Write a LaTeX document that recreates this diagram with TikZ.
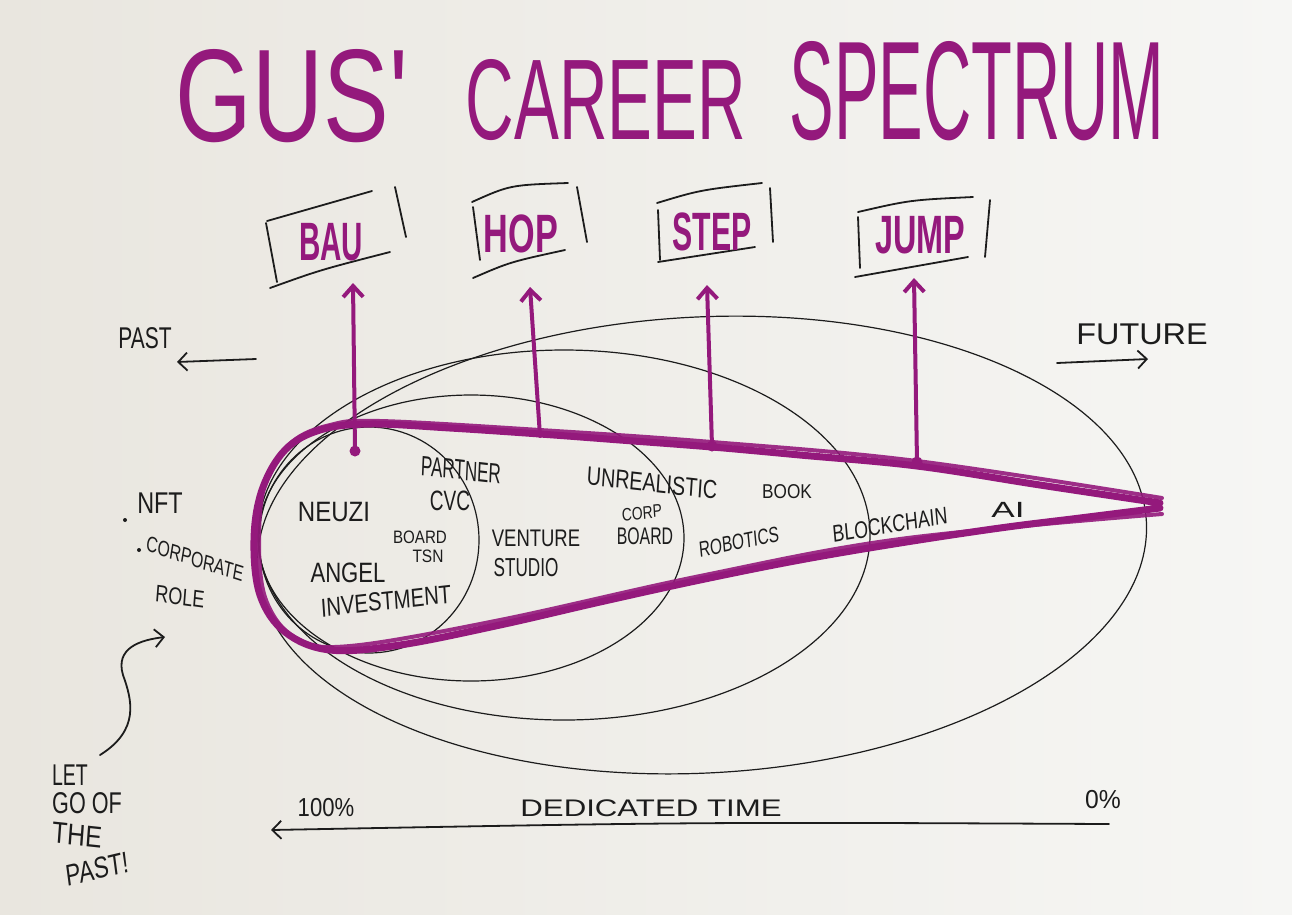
\documentclass[tikz,border=0pt]{standalone}
\usepackage{fontspec}
\newfontfamily\hand{Liberation Sans}
\usetikzlibrary{arrows.meta}
\definecolor{ink}{HTML}{1C1C1C}
\definecolor{mag}{HTML}{94197C}
\definecolor{paperL}{HTML}{E9E6DF}
\definecolor{paperR}{HTML}{F6F6F4}
\newcommand{\fsz}[1]{\fontsize{#1}{#1}\selectfont}
\begin{document}
\begin{tikzpicture}[x=1pt,y=-1pt,
  lbl/.style={text=ink, inner sep=0pt, font=\hand\fsz{#1}}, lbl/.default=26,
  boxlbl/.style={text=mag, inner sep=0pt, font=\hand\bfseries\fsz{36}, yscale=1.5},
  ttl/.style={text=mag, inner sep=0pt, font=\hand},
  stroke/.style={draw=ink, line width=1.8pt, line cap=round},
  ring/.style={draw=ink, line width=1.2pt},
  inkarrow/.style={draw=ink, line width=1.8pt, line cap=round, -{Straight Barb[length=9pt,width=18pt]}},
  parrow/.style={draw=mag, line width=4pt, line cap=round, -{Straight Barb[length=11pt,width=20pt]}},
  pdot/.style={circle, fill=mag, inner sep=0pt, minimum size=11pt},
  idot/.style={circle, fill=ink, inner sep=0pt, minimum size=4pt}]

% paper
\shade[left color=paperL, right color=paperR] (0,0) rectangle (1292,914);
\useasboundingbox (0,0) rectangle (1292,914);

% title
\node[ttl] (t-gus) at (292,96) {\resizebox{232pt}{92pt}{GUS'}};
\node[ttl] (t-career) at (606,100) {\resizebox{280pt}{80pt}{CAREER}};
\node[ttl] (t-spectrum) at (977,91) {\resizebox{375pt}{98pt}{SPECTRUM}};

% black ellipses
\draw[ring] (369,540) ellipse [x radius=110, y radius=113];
\draw[ring] (471,538) ellipse [x radius=213, y radius=143];
\draw[ring] (564,535) ellipse [x radius=306, y radius=185];
\draw[ring, rotate around={3:(702,545)}] (702,545) ellipse [x radius=445, y radius=228];

% purple cone
\draw[mag, line width=7pt, line cap=round, line join=round] plot[smooth, tension=0.6] coordinates {
 (1160,503) (1040,485) (917,466) (800,455) (712,447) (620,440) (540,434) (450,428) (370,424)
 (320,430) (285,450) (262,490) (254,540) (260,595) (285,632) (330,650) (400,645) (500,625)
 (600,602) (700,580) (800,560) (900,543) (1000,528) (1080,518) (1160,508)};
\draw[mag, line width=4pt, line cap=round, line join=round, opacity=0.9] plot[smooth, tension=0.6] coordinates {
 (1162,498) (917,461) (712,442) (540,430) (380,421) (330,425) (292,442) (266,480) (259,540)
 (266,600) (296,638) (350,646) (500,620) (700,576) (900,539) (1162,514)};

% boxes (hand-drawn outlines)
\draw[stroke] (267,221) -- (372,191);
\draw[stroke] (266,223) -- (277,282);
\draw[stroke] (270,288) .. controls (320,270) .. (390,252);
\draw[stroke] (395,187) -- (406,237);

\draw[stroke] (472,202) .. controls (510,185) .. (568,183);
\draw[stroke] (473,207) -- (480,260);
\draw[stroke] (473,278) .. controls (510,262) .. (565,250);
\draw[stroke] (577,187) -- (587,242);

\draw[stroke] (657,203) .. controls (700,190) .. (762,183);
\draw[stroke] (658,210) -- (660,260);
\draw[stroke] (658,262) -- (755,247);
\draw[stroke] (770,188) -- (773,242);

\draw[stroke] (858,212) .. controls (910,200) .. (973,197);
\draw[stroke] (858,217) -- (860,268);
\draw[stroke] (855,277) -- (968,257);
\draw[stroke] (990,200) -- (985,257);

% box labels
\node[boxlbl, xscale=.82] (bau) at (331,242) {BAU};
\node[boxlbl, xscale=.95] (hop) at (521,234) {HOP};
\node[boxlbl, xscale=.84] (stp) at (712,232) {STEP};
\node[boxlbl, xscale=.9] (jmp) at (920,235) {JUMP};

% purple arrows
\node[pdot] (d1) at (355,451) {};
\coordinate (d2) at (540,436);
\node[pdot] (d3) at (712,446) {};
\node[pdot] (d4) at (917,462) {};
\coordinate (t1) at (353,283);
\coordinate (t2) at (530,287);
\coordinate (t3) at (707,285);
\coordinate (t4) at (914,278);
\draw[parrow] (d1.center) -- (t1);
\draw[parrow] (d2) -- (t2);
\draw[parrow] (d3.center) -- (t3);
\draw[parrow] (d4.center) -- (t4);

% past / future
\node[lbl=30, xscale=.7] (past) at (145,338) {PAST};
\coordinate (pa1) at (256,359);
\coordinate (pa2) at (177,362);
\draw[inkarrow] (pa1) -- (pa2);
\node[lbl=30, xscale=1.08] (future) at (1142,334) {FUTURE};
\coordinate (fu1) at (1057,363);
\coordinate (fu2) at (1148,359);
\draw[inkarrow] (fu1) -- (fu2);

% left notes
\node[idot] (b1) at (125,520) {};
\node[lbl=30, xscale=.78] (nft) at (160,503) {NFT};
\node[idot] (b2) at (139,550) {};
\node[lbl=22, xscale=.72, rotate=-13] (corp) at (195,559) {CORPORATE};
\node[lbl=24, xscale=.75, rotate=-6] (role) at (180,597) {ROLE};

\node[lbl=30, xscale=.65] (let) at (70,775) {LET};
\node[lbl=30, xscale=.72] (goof) at (87,803) {GO OF};
\node[lbl=30, xscale=.83, rotate=-5] (the) at (77,835) {THE};
\node[lbl=30, xscale=.75, rotate=10] (pst) at (97,869) {PAST!};
\coordinate (lg) at (100,755);
\coordinate (lgt) at (165,637);
\draw[inkarrow] (lg) .. controls (140,730) and (132,700) .. (123,675) .. controls (115,648) and (140,640) .. (lgt);

% inner labels
\node[lbl=28, xscale=.86] (neuzi) at (334,512) {NEUZI};
\node[lbl=28, xscale=.61, rotate=-4] (partner) at (461,470) {PARTNER};
\node[lbl=28, xscale=.68] (cvc) at (450,501) {CVC};
\node[lbl=18, xscale=.84] (board1) at (420,537) {BOARD};
\node[lbl=18, xscale=.86] (tsn) at (428,556) {TSN};
\node[lbl=28, xscale=.79] (angel) at (348,573) {ANGEL};
\node[lbl=26, xscale=.78, rotate=5] (invest) at (386,601) {INVESTMENT};
\node[lbl=24, xscale=.77] (venture) at (536,538) {VENTURE};
\node[lbl=26, xscale=.66] (studio) at (526,568) {STUDIO};
\node[lbl=26, xscale=.76, rotate=-5] (unreal) at (652,483) {UNREALISTIC};
\node[lbl=18, xscale=.77, rotate=5] (corp2) at (642,513) {CORP};
\node[lbl=24, xscale=.66] (board2) at (645,536) {BOARD};
\node[lbl=20, xscale=.86] (book) at (787,492) {BOOK};
\node[lbl=22, xscale=.7, rotate=8] (robotics) at (739,542) {ROBOTICS};
\node[lbl=24, xscale=.74, rotate=7] (blockchain) at (890,525) {BLOCKCHAIN};
\node[lbl=22, xscale=1.6] (ai) at (1008,510) {AI};

% dedicated time axis
\node[lbl=26, xscale=.85] (p100) at (326,808) {100\%};
\node[lbl=24, xscale=1.3] (ded) at (651,808) {DEDICATED TIME};
\node[lbl=26, xscale=.95] (p0) at (1103,800) {0\%};
\coordinate (ax1) at (1109,824);
\coordinate (ax2) at (271,830);
\draw[inkarrow] (ax1) .. controls (700,822) .. (ax2);

\end{tikzpicture}
\end{document}
